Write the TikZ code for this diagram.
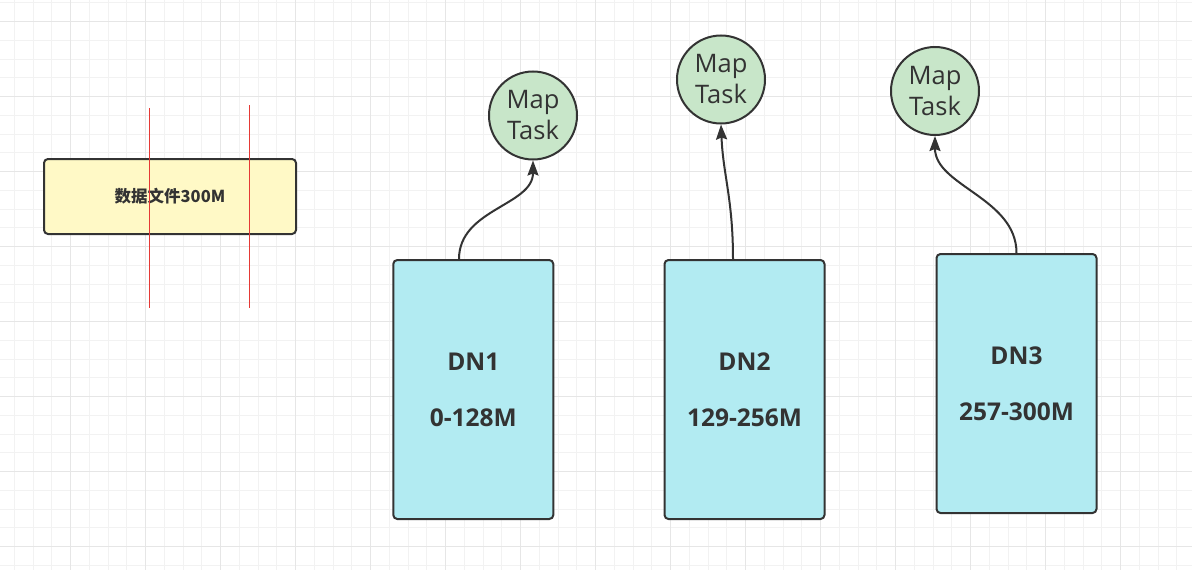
\documentclass[tikz,border=0pt]{standalone}
\usepackage{fontspec}
\setmainfont{Open Sans}
\newfontfamily\cjk{Noto Sans CJK SC}
\usetikzlibrary{arrows.meta}
\definecolor{gridminor}{HTML}{F2F2F2}
\definecolor{gridmajor}{HTML}{E6E6E6}
\definecolor{strokec}{HTML}{333333}
\definecolor{yellowf}{HTML}{FFF9C6}
\definecolor{cyanf}{HTML}{B2EBF2}
\definecolor{greenf}{HTML}{C8E6C9}
\definecolor{redl}{HTML}{E53935}
\tikzset{
  filebox/.style={draw=strokec, line width=2pt, fill=yellowf, rounded corners=4pt,
    minimum width=252pt, minimum height=75pt, inner sep=0pt,
    font=\cjk\bfseries\fontsize{16.5}{19}\selectfont, text=strokec},
  dnbox/.style={draw=strokec, line width=2pt, fill=cyanf, rounded corners=4pt,
    minimum width=160pt, minimum height=259pt, inner sep=0pt, align=center,
    font=\bfseries\fontsize{24.5}{56}\selectfont, text=strokec},
  taskc/.style={draw=strokec, line width=2pt, fill=greenf, circle,
    minimum size=88pt, inner sep=0pt, align=center,
    font=\fontsize{25.5}{31}\selectfont, text=strokec},
  arr/.style={draw=strokec, line width=2pt, -{Stealth[length=15pt,width=11pt,inset=2pt]}},
  redline/.style={draw=redl, line width=0.8pt}
}
\begin{document}
\begin{tikzpicture}[x=1pt,y=-1pt]
\useasboundingbox (0,0) rectangle (1192,570);
\fill[white] (0,0) rectangle (1192,570);
% grid
\foreach \k in {0,...,63} {
  \draw[gridminor, line width=1pt] ({14.45+18.75*\k},0) -- ({14.45+18.75*\k},570);
}
\foreach \k in {0,...,30} {
  \draw[gridminor, line width=1pt] (0,{2.95+18.75*\k}) -- (1192,{2.95+18.75*\k});
}
\foreach \k in {0,...,16} {
  \draw[gridmajor, line width=1pt] ({-4.3+75*\k},0) -- ({-4.3+75*\k},570);
}
\foreach \k in {0,...,8} {
  \draw[gridmajor, line width=1pt] (0,{21.7+75*\k}) -- (1192,{21.7+75*\k});
}
% file box
\node[filebox] (file) at (170,196.5) {数据文件300M};
% red split lines
\coordinate (r1a) at (149.3,108);
\coordinate (r1b) at (149.3,308);
\coordinate (r2a) at (249.3,105);
\coordinate (r2b) at (249.3,308);
\draw[redline] (r1a) -- (r1b);
\draw[redline] (r2a) -- (r2b);
% data nodes
\node[dnbox] (dn1) at (473.3,389.5) {DN1\\0-128M};
\node[dnbox] (dn2) at (744.5,389.5) {DN2\\129-256M};
\node[dnbox] (dn3) at (1016.5,383.5) {DN3\\257-300M};
% map tasks
\node[taskc] (mt1) at (533,115.5) {Map\\Task};
\node[taskc] (mt2) at (721,79.5) {Map\\Task};
\node[taskc] (mt3) at (935,91) {Map\\Task};
% arrows
\draw[arr] ([xshift=-14.3pt]dn1.north) .. controls +(0,-50) and +(0,45) .. (mt1.south);
\draw[arr] ([xshift=-11.5pt]dn2.north) .. controls +(0,-60) and +(2,50) .. (mt2.south);
\draw[arr] (dn3.north) .. controls +(0,-55) and +(0,50) .. (mt3.south);
\end{tikzpicture}
\end{document}
